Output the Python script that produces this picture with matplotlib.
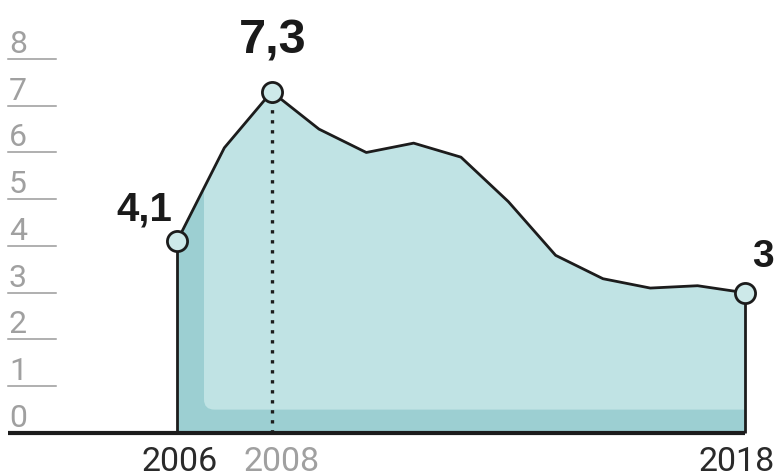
import matplotlib
matplotlib.use("Agg")
import matplotlib.pyplot as plt
from matplotlib.patches import FancyBboxPatch
import matplotlib.transforms as mtransforms

# ---- data ----
years = [2006, 2007, 2008, 2009, 2010, 2011, 2012, 2013, 2014, 2015, 2016, 2017, 2018]
values = [4.1, 6.1, 7.3, 6.5, 6.0, 6.2, 5.9, 4.95, 3.8, 3.3, 3.1, 3.15, 3.0]
y_ticks = [0, 1, 2, 3, 4, 5, 6, 7, 8]
x_labels = ["2006", "2008", "2018"]
highlight_idx = [0, 2, 12]
highlight_text = ["4,1", "7,3", "3"]

W, H = 779, 477
fig = plt.figure(figsize=(W / 100, H / 100), dpi=100)
ax = fig.add_axes([0, 0, 1, 1])
ax.set_xlim(2002.26, 2018.72)
ax.set_ylim(-0.92, 9.283)
ax.axis("off")

dark_fill = "#9ccfd2"
light_fill = "#c0e3e4"
ink = "#1c1c1c"
grey = "#9a9a9a"

# area: dark base
ax.fill_between(years, values, 0, color=dark_fill, lw=0, zorder=1)
# lighter inner area with rounded corner
light = ax.fill_between(years, values, 0, color=light_fill, lw=0, zorder=2)
clip = FancyBboxPatch((2006.57, 0.5), 20, 20,
                      boxstyle="round,pad=0,rounding_size=0.22",
                      transform=ax.transData, facecolor="none", edgecolor="none")
ax.add_patch(clip)
light.set_clip_path(clip)

# outline
ax.plot(years, values, color=ink, lw=2, zorder=4, solid_joinstyle="round")
ax.vlines([years[0], years[-1]], 0, [values[0], values[-1]], color=ink, lw=2, zorder=4)
ax.vlines(years[2], 0, values[2], color=ink, lw=2.4, linestyles=(0, (1, 2)), zorder=3)

# baseline
x0 = ax.get_xlim()[0] + 8 / 47.33
ax.hlines(0, x0, years[-1], color=ink, lw=3, zorder=5)

# y gridlines and labels
trans = mtransforms.blended_transform_factory(ax.transAxes, ax.transData)
for v in y_ticks:
    if v > 0:
        ax.plot([8 / W, 56 / W], [v, v], color=grey, lw=1.1, transform=trans, zorder=1)
    ax.text(9 / W, v + 0.15, str(v), transform=trans, ha="left", va="baseline",
            fontsize=23, color="#a0a0a0", family="Roboto", weight="normal")

# markers
hx = [years[i] for i in highlight_idx]
hy = [values[i] for i in highlight_idx]
ax.plot(hx, hy, "o", ms=14.5, mfc="#cde9e9", mec=ink, mew=2, zorder=6)

# value labels
offsets = [(-3.5, 16, "right", 29), (0.5, 28, "center", 35), (5, 19, "left", 28)]
for (x, y, t, (dx, dy, ha, fs)) in zip(hx, hy, highlight_text, offsets):
    ax.annotate(t, (x, y), xytext=(dx, dy), textcoords="offset points",
                ha=ha, va="baseline", fontsize=fs, weight="bold",
                family="Liberation Sans", color="#1a1a1a", zorder=7)

# x labels
x_pos = [2006, 2008, 2018]
x_off = [2, 7, -6]
x_col = ["#2a2a2a", "#a0a0a0", "#2a2a2a"]
for xp, lab, off, col in zip(x_pos, x_labels, x_off, x_col):
    ax.annotate(lab, (xp, 0), xytext=(off, -27), textcoords="offset points",
                ha="center", va="baseline", fontsize=24.5, color=col,
                family="Roboto", weight="normal")

fig.savefig("out.png", dpi=100)
